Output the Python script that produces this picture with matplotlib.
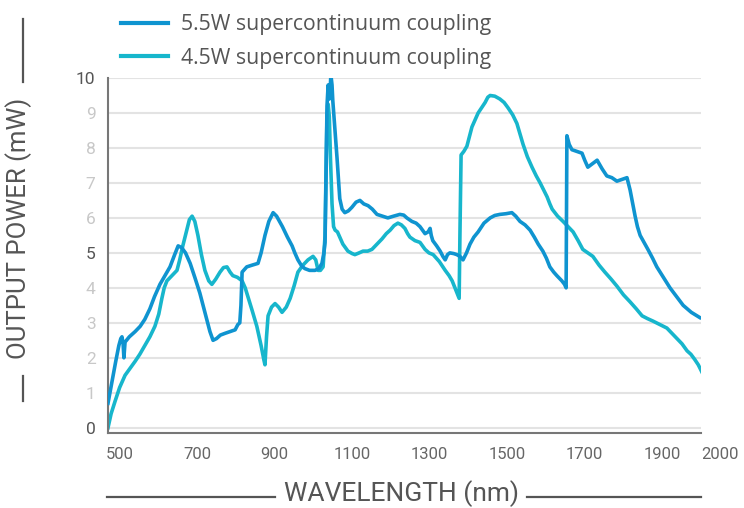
import matplotlib
matplotlib.use("Agg")
import matplotlib.pyplot as plt
from matplotlib.lines import Line2D

# 5.5W supercontinuum coupling
wl_55 = [470, 480, 490, 498, 503, 506, 509, 511, 514, 525, 540, 553, 565, 578, 590, 604,
         617, 630, 642, 651, 660, 670, 682, 694, 707, 720, 733, 741, 750, 760,
         772, 785, 798, 805, 810, 813, 816, 828, 842, 857, 865, 875, 885, 896, 905, 920,
         933, 945, 952, 960, 970, 978, 990, 1004, 1014, 1022,
         1027, 1030, 1033, 1035, 1038, 1041, 1043, 1045, 1048, 1050, 1055, 1061, 1068,
         1074, 1081, 1090, 1099, 1110, 1120, 1130, 1141, 1152, 1164,
         1178, 1192, 1207, 1223, 1233, 1241, 1254, 1265, 1275, 1288, 1296, 1301, 1304,
         1308, 1318, 1327, 1334, 1340, 1346, 1352, 1362, 1370, 1378, 1386,
         1395, 1404, 1414, 1425, 1440, 1456, 1468, 1481, 1497, 1512, 1522, 1533, 1546,
         1559, 1570, 1580, 1592, 1601, 1610, 1620, 1628, 1641, 1648, 1652,
         1654, 1660, 1667, 1680, 1693, 1700, 1708, 1720, 1732, 1745, 1757, 1770, 1783,
         1796, 1809, 1817, 1824, 1830, 1836, 1843, 1853, 1863, 1875, 1886, 1903, 1920,
         1937, 1954, 1975, 1997]
pw_55 = [0.7, 1.3, 1.9, 2.35, 2.55, 2.6, 2.4, 2.0, 2.45, 2.6, 2.75, 2.9, 3.1, 3.4, 3.75, 4.1,
         4.35, 4.6, 4.95, 5.2, 5.15, 5.0, 4.7, 4.3, 3.85, 3.3, 2.75, 2.5, 2.55, 2.65,
         2.7, 2.75, 2.8, 2.95, 3.0, 3.5, 4.45, 4.6, 4.65, 4.7, 5.0, 5.5, 5.9, 6.15, 6.05, 5.75,
         5.45, 5.2, 5.0, 4.8, 4.62, 4.55, 4.5, 4.5, 4.55, 4.7,
         5.0, 5.3, 7.5, 9.2, 9.8, 9.4, 9.6, 10.1, 9.8, 9.35, 8.6, 7.7, 6.55,
         6.25, 6.15, 6.2, 6.3, 6.45, 6.5, 6.4, 6.35, 6.25, 6.1,
         6.05, 6.0, 6.05, 6.1, 6.08, 6.0, 5.9, 5.85, 5.75, 5.55, 5.6, 5.7, 5.5,
         5.35, 5.2, 5.05, 4.9, 4.8, 4.95, 5.0, 4.98, 4.95, 4.9, 4.8,
         5.0, 5.25, 5.45, 5.6, 5.85, 6.0, 6.07, 6.1, 6.12, 6.15, 6.05, 5.9, 5.8,
         5.65, 5.45, 5.25, 5.05, 4.85, 4.6, 4.45, 4.35, 4.2, 4.1, 4.0,
         8.35, 8.1, 7.95, 7.9, 7.85, 7.65, 7.45, 7.55, 7.65, 7.4, 7.2, 7.15, 7.05,
         7.1, 7.15, 6.8, 6.4, 6.05, 5.75, 5.5, 5.3, 5.1, 4.85, 4.6, 4.3, 4.0,
         3.75, 3.5, 3.3, 3.15]

# 4.5W supercontinuum coupling
wl_45 = [470, 478, 488, 500, 514, 527, 540, 552, 565, 578, 591, 601, 609, 615, 622, 635,
         648, 655, 663, 672, 680, 687, 694, 702, 711, 720, 730, 738, 748, 759,
         768, 777, 785, 792, 804, 816, 824, 831, 842, 854, 865, 872, 875, 879, 883, 892,
         901, 910, 919, 930, 940, 950, 960, 973, 986, 999, 1006, 1012, 1018, 1025,
         1030, 1033, 1035, 1038, 1041, 1044, 1048, 1052, 1056, 1062, 1068, 1076, 1089,
         1100, 1107, 1118, 1128, 1140, 1151, 1164, 1177, 1188, 1198, 1208, 1218, 1227,
         1236, 1243, 1249, 1262, 1275, 1288, 1298, 1309, 1325, 1340, 1350, 1358, 1367,
         1376, 1378, 1381, 1388, 1396, 1402, 1409, 1417, 1425, 1434, 1443, 1450,
         1456, 1468, 1481, 1492, 1502, 1514, 1525, 1533, 1541, 1552, 1564, 1575, 1585,
         1594, 1603, 1610, 1616, 1630, 1644, 1657, 1670, 1683, 1695, 1708, 1721, 1737,
         1752, 1768, 1783, 1800, 1817, 1833, 1848, 1862, 1876, 1894, 1912, 1925, 1938,
         1951, 1964, 1974, 1984, 1993, 2002]
pw_45 = [0.0, 0.4, 0.75, 1.15, 1.5, 1.7, 1.9, 2.1, 2.35, 2.6, 2.9, 3.25, 3.7, 4.0, 4.2, 4.35,
         4.5, 4.8, 5.2, 5.6, 5.95, 6.05, 5.9, 5.5, 4.95, 4.5, 4.2, 4.1, 4.25, 4.45,
         4.58, 4.6, 4.45, 4.35, 4.3, 4.2, 4.0, 3.75, 3.35, 2.9, 2.35, 1.95, 1.8, 2.6, 3.2, 3.45,
         3.55, 3.45, 3.3, 3.45, 3.7, 4.05, 4.45, 4.65, 4.8, 4.9, 4.8, 4.5, 4.5, 4.6,
         5.5, 7.7, 8.9, 9.25, 8.9, 7.7, 6.4, 5.75, 5.65, 5.6, 5.45, 5.25, 5.05,
         4.98, 4.95, 5.0, 5.05, 5.05, 5.1, 5.25, 5.4, 5.55, 5.65, 5.78, 5.85, 5.8,
         5.7, 5.55, 5.45, 5.35, 5.3, 5.1, 5.0, 4.95, 4.75, 4.5, 4.35, 4.2, 3.95,
         3.7, 5.5, 7.8, 7.9, 8.05, 8.3, 8.6, 8.8, 9.0, 9.15, 9.3, 9.45,
         9.5, 9.48, 9.4, 9.3, 9.15, 8.95, 8.7, 8.4, 8.1, 7.75, 7.45, 7.2, 7.0,
         6.8, 6.6, 6.4, 6.25, 6.05, 5.9, 5.75, 5.6, 5.35, 5.1, 5.0, 4.9, 4.65,
         4.45, 4.25, 4.05, 3.8, 3.6, 3.4, 3.2, 3.12, 3.05, 2.95, 2.85, 2.7, 2.55,
         2.4, 2.2, 2.1, 1.95, 1.8, 1.6]

x_ticks = [500, 700, 900, 1100, 1300, 1500, 1700, 1900, 2000]
y_ticks = list(range(0, 11))

c55 = '#0f94d0'
c45 = '#17b6cc'
txt = '#555555'
tfont = ['Roboto', 'DejaVu Sans']

fig = plt.figure(figsize=(7.44, 5.08), dpi=100)
W, H = 744, 508
ax = fig.add_axes([108 / W, 1 - 433 / H, (701 - 108) / W, (433 - 78) / H])

ax.plot(wl_55, pw_55, color=c55, lw=2.6, solid_joinstyle='round', zorder=3)
ax.plot(wl_45, pw_45, color=c45, lw=2.6, solid_joinstyle='round', zorder=2)

ax.set_xlim(470, 2000)
ax.set_ylim(-0.15, 10)
ax.set_xticks(x_ticks)
ax.set_yticks(y_ticks)
ax.yaxis.grid(True, color='#e3e3e3', lw=1.5)
ax.set_axisbelow(True)
for s in ['top', 'right']:
    ax.spines[s].set_visible(False)
for s in ['left', 'bottom']:
    ax.spines[s].set_color('#777777')
    ax.spines[s].set_linewidth(1.5)
ax.tick_params(axis='x', length=0, pad=10)
ax.tick_params(axis='y', length=0, pad=9)

for lab in ax.get_xticklabels():
    lab.set_family(tfont)
    lab.set_fontsize(12)
    lab.set_color('#666666')
ax.get_xticklabels()[-1].set_horizontalalignment('left')
for v, lab in zip(y_ticks, ax.get_yticklabels()):
    lab.set_family(tfont)
    lab.set_fontsize(12.5)
    lab.set_color('#555555' if v in (0, 5, 10) else '#c8c8c8')

# axis titles with side rules
fig.text(401 / W, 1 - 494 / H, 'WAVELENGTH (nm)', ha='center', va='center',
         family=tfont, fontsize=19, color=txt)
fig.add_artist(Line2D([107 / W, 275 / W], [1 - 497 / H] * 2, color=txt, lw=1.6))
fig.add_artist(Line2D([527 / W, 701 / W], [1 - 497 / H] * 2, color=txt, lw=1.6))

fig.text(19 / W, 1 - 228 / H, 'OUTPUT POWER (mW)', ha='center', va='center',
         rotation=90, family=tfont, fontsize=18.5, color=txt)
fig.add_artist(Line2D([23 / W] * 2, [1 - 19 / H, 1 - 82 / H], color=txt, lw=1.6))
fig.add_artist(Line2D([23 / W] * 2, [1 - 376 / H, 1 - 401 / H], color=txt, lw=1.6))

# legend
handles = [Line2D([], [], color=c55, lw=3), Line2D([], [], color=c45, lw=3)]
fig.legend(handles, ['5.5W supercontinuum coupling', '4.5W supercontinuum coupling'],
           loc='upper left', bbox_to_anchor=(102 / W, 1 + 5 / H), frameon=False,
           handlelength=2.2, handletextpad=0.6, labelspacing=0.6,
           prop={'family': 'Open Sans', 'size': 15.3}, labelcolor='#555555')

fig.savefig('out.png', dpi=100)
